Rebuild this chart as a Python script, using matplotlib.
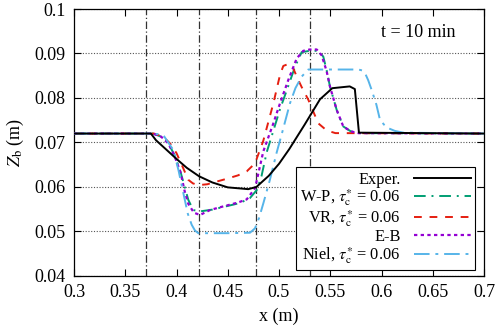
import matplotlib
matplotlib.use('Agg')
import matplotlib.pyplot as plt

plt.rcParams['font.family'] = ['Liberation Serif', 'DejaVu Serif']
plt.rcParams['mathtext.fontset'] = 'stix'

# Experimental bed profile
x_exp = [0.30, 0.375, 0.380, 0.390, 0.400, 0.410, 0.422, 0.435, 0.450, 0.470, 0.478,
         0.490, 0.500, 0.510, 0.525, 0.540, 0.552, 0.569, 0.574, 0.578, 0.70]
y_exp = [0.072, 0.072, 0.0705, 0.0684, 0.0663, 0.0643, 0.0624, 0.0610, 0.0599, 0.0595, 0.0600,
         0.0625, 0.0652, 0.0685, 0.0740, 0.0797, 0.0822, 0.0826, 0.0820, 0.0722, 0.072]

# W-P
x_wp = [0.30, 0.377, 0.385, 0.392, 0.398, 0.4034, 0.408, 0.4115, 0.4164, 0.423, 0.435, 0.4457,
        0.455, 0.462, 0.4717, 0.4783, 0.483, 0.488, 0.495, 0.501, 0.508, 0.5156, 0.5221, 0.530,
        0.5383, 0.5432, 0.5465, 0.5497, 0.5563, 0.5627, 0.570, 0.5774, 0.70]
y_wp = [0.072, 0.072, 0.0713, 0.0698, 0.0672, 0.0638, 0.0600, 0.0571, 0.0548, 0.0545, 0.0549, 0.0555,
        0.0560, 0.0564, 0.0575, 0.0593, 0.0625, 0.0678, 0.0730, 0.0775, 0.0820, 0.0870, 0.0903, 0.0906,
        0.0906, 0.0893, 0.0862, 0.0826, 0.0773, 0.0736, 0.0725, 0.0721, 0.072]

# VR
x_vr = [0.30, 0.378, 0.387, 0.394, 0.400, 0.406, 0.4115, 0.416, 0.4213, 0.430, 0.4392, 0.450,
        0.460, 0.4685, 0.4766, 0.4847, 0.4945, 0.501, 0.5042, 0.5075, 0.5124, 0.5173, 0.522,
        0.5286, 0.5383, 0.5465, 0.555, 0.70]
y_vr = [0.072, 0.072, 0.0713, 0.0697, 0.0676, 0.0645, 0.0616, 0.0608, 0.0604, 0.0606, 0.0612, 0.0619,
        0.0626, 0.0635, 0.0653, 0.0704, 0.0788, 0.0852, 0.0872, 0.0875, 0.0875, 0.0848, 0.0825,
        0.0796, 0.0743, 0.0727, 0.0721, 0.072]

# E-B
x_eb = [0.30, 0.377, 0.385, 0.392, 0.398, 0.404, 0.408, 0.4115, 0.417, 0.423, 0.4327, 0.442,
        0.452, 0.460, 0.4685, 0.4766, 0.4847, 0.4945, 0.501, 0.509, 0.5173, 0.5237, 0.530, 0.5368,
        0.5416, 0.5465, 0.5497, 0.5563, 0.5627, 0.570, 0.5774, 0.70]
y_eb = [0.072, 0.072, 0.0713, 0.0698, 0.0670, 0.0632, 0.0590, 0.0562, 0.0542, 0.0537, 0.0548, 0.0554,
        0.0560, 0.0565, 0.0572, 0.0597, 0.0680, 0.0743, 0.0788, 0.0840, 0.0889, 0.0906, 0.0909, 0.0909,
        0.0896, 0.0860, 0.0826, 0.0773, 0.0736, 0.0725, 0.0721, 0.072]

# Niel
x_niel = [0.30, 0.377, 0.387, 0.3969, 0.402, 0.4067, 0.411, 0.4148, 0.418, 0.4213, 0.450, 0.4717,
          0.4766, 0.4805, 0.4847, 0.4910, 0.4978, 0.5040, 0.5107, 0.5160, 0.5221, 0.5286, 0.540,
          0.560, 0.5774, 0.5810, 0.5839, 0.5870, 0.5904, 0.5950, 0.5985, 0.6025, 0.6067, 0.6130,
          0.6213, 0.70]
y_niel = [0.072, 0.072, 0.0717, 0.0683, 0.0637, 0.0586, 0.0540, 0.0515, 0.0502, 0.0496, 0.0496, 0.0497,
          0.0507, 0.0530, 0.0563, 0.0615, 0.0678, 0.0730, 0.0788, 0.0822, 0.0848, 0.0864, 0.0864,
          0.0864, 0.0864, 0.0862, 0.0856, 0.0840, 0.0818, 0.0785, 0.0751, 0.0740, 0.0732, 0.0726,
          0.0722, 0.072]

vlines = [0.370, 0.422, 0.4775, 0.530]
x_ticks = [0.3, 0.35, 0.4, 0.45, 0.5, 0.55, 0.6, 0.65, 0.7]
y_ticks = [0.04, 0.05, 0.06, 0.07, 0.08, 0.09, 0.1]

fig = plt.figure(figsize=(5.0, 3.34), dpi=100)
ax = fig.add_axes([0.148, 0.174, 0.82, 0.799])

for xv in vlines:
    ax.axvline(xv, color='#333333', lw=0.9, ls=(0, (6, 2, 1, 2)), zorder=1)
ax.yaxis.grid(True, color='#555555', ls=(0, (1, 1.5)), lw=0.8)
ax.set_axisbelow(True)

tau = r'$\tau_\mathrm{c}^{*}$'
ax.plot(x_exp, y_exp, color='black', lw=1.4, label='Exper.', zorder=5)
ax.plot(x_wp, y_wp, color='#009E73', lw=1.4, ls=(0, (6, 3, 1, 3)),
        label='W-P, ' + tau + ' = 0.06', zorder=3)
ax.plot(x_vr, y_vr, color='#E51E10', lw=1.4, ls=(0, (4, 4)),
        label='VR, ' + tau + ' = 0.06', zorder=3)
ax.plot(x_eb, y_eb, color='#9400D3', lw=1.6, ls=(0, (1.5, 1.5)), label='E-B', zorder=4)
ax.plot(x_niel, y_niel, color='#56B4E9', lw=1.4, ls=(0, (8, 3, 1.5, 3)),
        label='Niel, ' + tau + ' = 0.06', zorder=4)

ax.set_xlim(0.3, 0.7)
ax.set_ylim(0.04, 0.1)
ax.set_xticks(x_ticks)
ax.set_xticklabels(['0.3', '0.35', '0.4', '0.45', '0.5', '0.55', '0.6', '0.65', '0.7'])
ax.set_yticks(y_ticks)
ax.set_yticklabels(['0.04', '0.05', '0.06', '0.07', '0.08', '0.09', '0.1'])
ax.tick_params(direction='in', top=True, right=True, length=5, width=0.8, labelsize=13, pad=6)
for s in ax.spines.values():
    s.set_linewidth(0.9)

ax.set_xlabel('x (m)', fontsize=13, labelpad=5)
ax.set_ylabel(r'$Z_\mathrm{b}$ (m)', fontsize=13, labelpad=6)
ax.text(0.6356, 0.0948, 't = 10 min', fontsize=13, ha='center', va='center')

leg = ax.legend(loc='lower right', bbox_to_anchor=(0.978, 0.022), fontsize=11.8,
                markerfirst=False, fancybox=False, framealpha=1, edgecolor='black',
                labelspacing=0.0, handlelength=3.5, handletextpad=0.8, borderpad=0.25,
                borderaxespad=0)
leg.get_frame().set_linewidth(0.8)

fig.savefig('out.png', dpi=100)
